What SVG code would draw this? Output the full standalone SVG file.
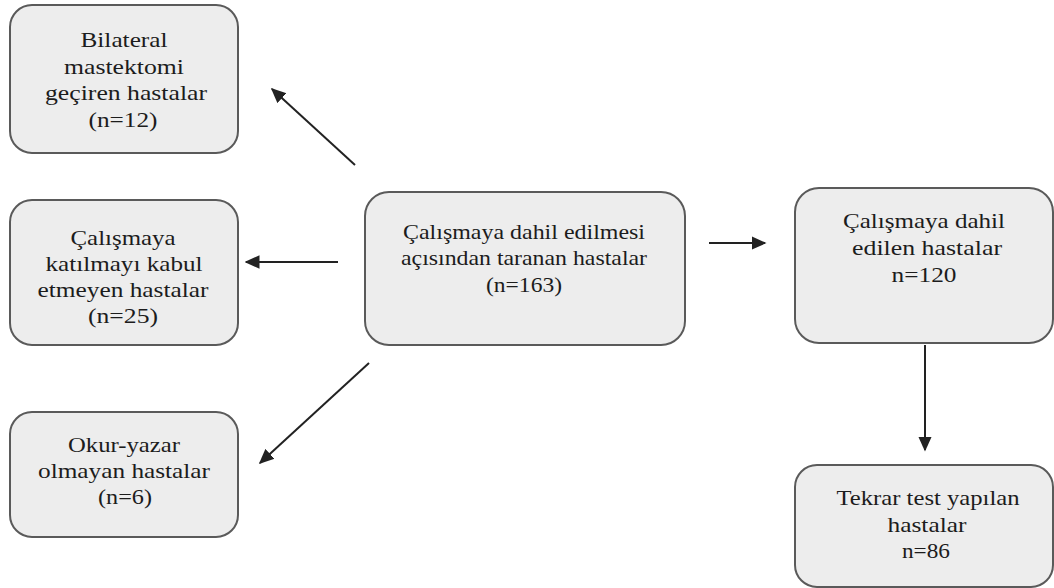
<svg xmlns="http://www.w3.org/2000/svg" width="1054" height="588" viewBox="0 0 1054 588">
<defs>
<style>
.box{fill:#ededed;stroke:#5a5a5a;stroke-width:2}
.t{font-family:'Liberation Serif','DejaVu Serif',serif;font-size:22px;fill:#1c1c1c;text-anchor:middle}
.c{stroke:#222;stroke-width:2;fill:none}
</style>
<marker id="ah2" viewBox="0 0 10 10" refX="9" refY="5" markerWidth="7.5" markerHeight="7.5" orient="auto"><path d="M0,0.5 L10,5 L0,9.5 Z" fill="#222"/></marker>
</defs>
<rect width="1054" height="588" fill="#fff"/>
<g id="connectors">
<line class="c" x1="355" y1="165" x2="272" y2="89" marker-end="url(#ah2)"/>
<line class="c" x1="338" y1="262" x2="246" y2="262" marker-end="url(#ah2)"/>
<line class="c" x1="369" y1="363" x2="260" y2="463" marker-end="url(#ah2)"/>
<line class="c" x1="709" y1="243" x2="765" y2="243" marker-end="url(#ah2)"/>
<line class="c" x1="925" y1="345" x2="925" y2="450" marker-end="url(#ah2)"/>
</g>
<g id="n1"><rect class="box" x="10" y="5" width="228" height="148" rx="22"/>
<text class="t" x="124" y="47" textLength="87" lengthAdjust="spacingAndGlyphs">Bilateral</text>
<text class="t" x="124" y="74" textLength="120" lengthAdjust="spacingAndGlyphs">mastektomi</text>
<text class="t" x="126" y="100" textLength="162" lengthAdjust="spacingAndGlyphs">geçiren hastalar</text>
<text class="t" x="123" y="127" textLength="69" lengthAdjust="spacingAndGlyphs">(n=12)</text></g>
<g id="n2"><rect class="box" x="10" y="200" width="228" height="145" rx="22"/>
<text class="t" x="123" y="245" textLength="105" lengthAdjust="spacingAndGlyphs">Çalışmaya</text>
<text class="t" x="124" y="271" textLength="157" lengthAdjust="spacingAndGlyphs">katılmayı kabul</text>
<text class="t" x="123" y="297" textLength="171" lengthAdjust="spacingAndGlyphs">etmeyen hastalar</text>
<text class="t" x="123" y="323" textLength="70" lengthAdjust="spacingAndGlyphs">(n=25)</text></g>
<g id="n3"><rect class="box" x="10" y="412" width="228" height="125" rx="22"/>
<text class="t" x="124" y="452" textLength="112" lengthAdjust="spacingAndGlyphs">Okur-yazar</text>
<text class="t" x="124" y="478" textLength="172" lengthAdjust="spacingAndGlyphs">olmayan hastalar</text>
<text class="t" x="125" y="504" textLength="54" lengthAdjust="spacingAndGlyphs">(n=6)</text></g>
<g id="n4"><rect class="box" x="365" y="192" width="320" height="153" rx="24"/>
<text class="t" x="524" y="239" textLength="242" lengthAdjust="spacingAndGlyphs">Çalışmaya dahil edilmesi</text>
<text class="t" x="524" y="265" textLength="246" lengthAdjust="spacingAndGlyphs">açısından taranan hastalar</text>
<text class="t" x="524" y="292" textLength="76" lengthAdjust="spacingAndGlyphs">(n=163)</text></g>
<g id="n5"><rect class="box" x="795" y="188" width="258" height="155" rx="24"/>
<text class="t" x="924" y="228" textLength="162" lengthAdjust="spacingAndGlyphs">Çalışmaya dahil</text>
<text class="t" x="927" y="255" textLength="150" lengthAdjust="spacingAndGlyphs">edilen hastalar</text>
<text class="t" x="924" y="282" textLength="65" lengthAdjust="spacingAndGlyphs">n=120</text></g>
<g id="n6"><rect class="box" x="795" y="465" width="258" height="122" rx="22"/>
<text class="t" x="928" y="505" textLength="183" lengthAdjust="spacingAndGlyphs">Tekrar test yapılan</text>
<text class="t" x="927" y="532" textLength="79" lengthAdjust="spacingAndGlyphs">hastalar</text>
<text class="t" x="926" y="558" textLength="48" lengthAdjust="spacingAndGlyphs">n=86</text></g>
</svg>
